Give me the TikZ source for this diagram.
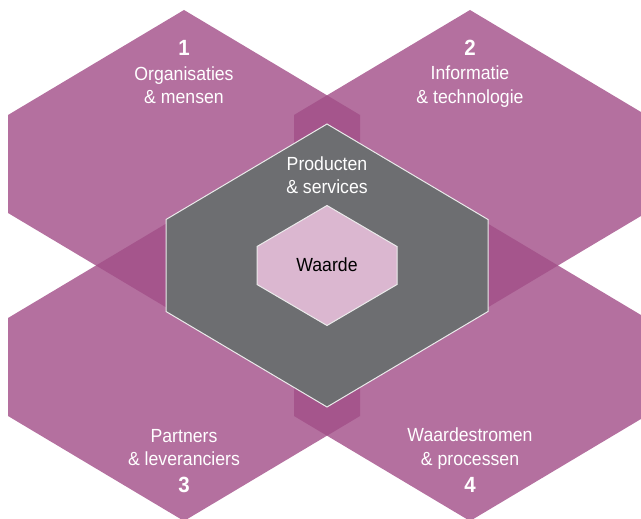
\documentclass[tikz,border=0pt]{standalone}
\usepackage{fontspec}
\setmainfont{Liberation Sans}[FakeStretch=0.93]
\definecolor{hexpurple}{HTML}{B4709F}
\definecolor{hexdark}{HTML}{A5558C}
\definecolor{hexgray}{HTML}{6D6E71}
\definecolor{hexpink}{HTML}{DBB7D0}
% hexagon path: centre x, centre y, half width, half vertical edge, rise of slanted edge
\newcommand{\hexagonpath}[5]{({#1},{#2-#4-#5}) -- ({#1+#3},{#2-#4}) -- ({#1+#3},{#2+#4}) -- ({#1},{#2+#4+#5}) -- ({#1-#3},{#2+#4}) -- ({#1-#3},{#2-#4}) -- cycle}
\newcommand{\hexA}{\hexagonpath{184}{164}{176}{49}{105}}
\newcommand{\hexB}{\hexagonpath{470}{164}{176}{49}{105}}
\newcommand{\hexC}{\hexagonpath{184}{367}{176}{49}{105}}
\newcommand{\hexD}{\hexagonpath{470}{367}{176}{49}{105}}
\begin{document}
\begin{tikzpicture}[x=1pt,y=-1pt,
  lab/.style={text=white,align=center,inner sep=0pt,font=\fontsize{19}{23.5}\selectfont},
  num/.style={text=white,inner sep=0pt,font=\fontsize{22}{24}\selectfont\bfseries},
  core/.style={draw=white!92!black,line width=1pt,line join=miter}]
\useasboundingbox (0,0) rectangle (641,519);
% outer hexagons
\fill[hexpurple] \hexA;
\fill[hexpurple] \hexB;
\fill[hexpurple] \hexC;
\fill[hexpurple] \hexD;
% overlaps
\begin{scope}
  \clip \hexA;
  \fill[hexdark] \hexB;
  \fill[hexdark] \hexC;
\end{scope}
\begin{scope}
  \clip \hexD;
  \fill[hexdark] \hexB;
  \fill[hexdark] \hexC;
\end{scope}
% core hexagons
\filldraw[core,fill=hexgray] \hexagonpath{327}{265.5}{161}{46}{95.5};
\filldraw[core,fill=hexpink] \hexagonpath{327}{265.5}{70}{19}{41};
% labels
\node[num] (num1) at (184,47.5) {1};
\node[lab] (lab1) at (184,85) {Organisaties\\\& mensen};
\node[num] (num2) at (470,47.5) {2};
\node[lab] (lab2) at (470,86.5) {Informatie\\\& technologie};
\node[lab] (lab3) at (184,447.5) {Partners\\\& leveranciers};
\node[num] (num3) at (184,485) {3};
\node[lab] (lab4) at (470,448.5) {Waardestromen\\\& processen};
\node[num] (num4) at (470,485) {4};
\node[lab] (lab5) at (327,175) {Producten\\\& services};
\node[lab,text=black] (lab6) at (327,265) {Waarde};
\end{tikzpicture}
\end{document}
